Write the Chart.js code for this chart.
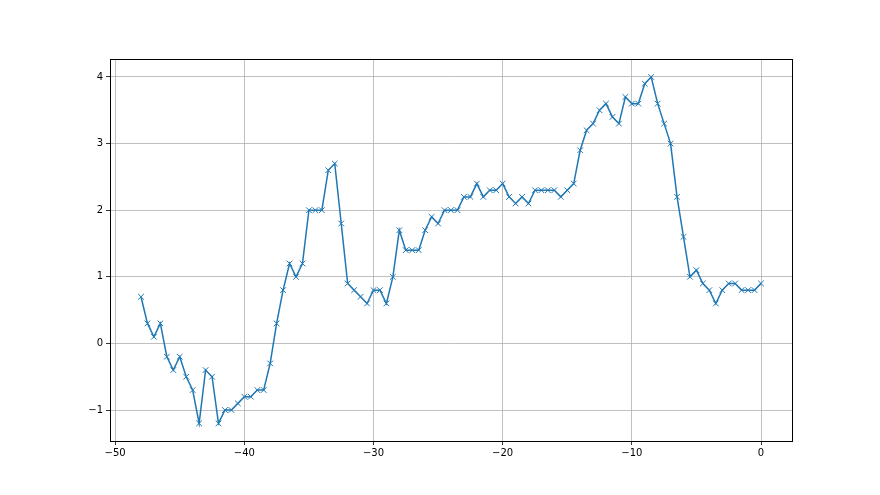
<!DOCTYPE html>
<html lang="en">
<head>
    <meta charset="UTF-8">
    <title>Line with x markers</title>
    <script src="https://cdn.jsdelivr.net/npm/chart.js"></script>
    <style>
        html, body { margin: 0; padding: 0; background: #fff; }
        #wrap { width: 880px; height: 495px; }
    </style>
</head>
<body>
    <div id="wrap"><canvas id="chart"></canvas></div>

    <script>
        // x positions (every half step from -48 to 0)
        const xValues = [
            -48, -47.5, -47, -46.5, -46, -45.5, -45, -44.5, -44, -43.5,
            -43, -42.5, -42, -41.5, -41, -40.5, -40, -39.5, -39, -38.5,
            -38, -37.5, -37, -36.5, -36, -35.5, -35, -34.5, -34, -33.5,
            -33, -32.5, -32, -31.5, -31, -30.5, -30, -29.5, -29, -28.5,
            -28, -27.5, -27, -26.5, -26, -25.5, -25, -24.5, -24, -23.5,
            -23, -22.5, -22, -21.5, -21, -20.5, -20, -19.5, -19, -18.5,
            -18, -17.5, -17, -16.5, -16, -15.5, -15, -14.5, -14, -13.5,
            -13, -12.5, -12, -11.5, -11, -10.5, -10, -9.5, -9, -8.5,
            -8, -7.5, -7, -6.5, -6, -5.5, -5, -4.5, -4, -3.5,
            -3, -2.5, -2, -1.5, -1, -0.5, 0
        ];

        const yValues = [
            0.7, 0.3, 0.1, 0.3, -0.2, -0.4, -0.2, -0.5, -0.7, -1.2,
            -0.4, -0.5, -1.2, -1.0, -1.0, -0.9, -0.8, -0.8, -0.7, -0.7,
            -0.3, 0.3, 0.8, 1.2, 1.0, 1.2, 2.0, 2.0, 2.0, 2.6,
            2.7, 1.8, 0.9, 0.8, 0.7, 0.6, 0.8, 0.8, 0.6, 1.0,
            1.7, 1.4, 1.4, 1.4, 1.7, 1.9, 1.8, 2.0, 2.0, 2.0,
            2.2, 2.2, 2.4, 2.2, 2.3, 2.3, 2.4, 2.2, 2.1, 2.2,
            2.1, 2.3, 2.3, 2.3, 2.3, 2.2, 2.3, 2.4, 2.9, 3.2,
            3.3, 3.5, 3.6, 3.4, 3.3, 3.7, 3.6, 3.6, 3.9, 4.0,
            3.6, 3.3, 3.0, 2.2, 1.6, 1.0, 1.1, 0.9, 0.8, 0.6,
            0.8, 0.9, 0.9, 0.8, 0.8, 0.8, 0.9
        ];

        const xTicks = [-50, -40, -30, -20, -10, 0];
        const yTicks = [-1, 0, 1, 2, 3, 4];

        const minus = v => v < 0 ? '\u2212' + Math.abs(v) : String(v);

        // top and right spines, matplotlib style
        const frame = {
            id: 'frame',
            afterDraw(chart) {
                const a = chart.chartArea, ctx = chart.ctx;
                ctx.save();
                ctx.strokeStyle = '#000';
                ctx.lineWidth = 1;
                ctx.strokeRect(Math.round(a.left) + 0.5, Math.round(a.top) + 0.5,
                    Math.round(a.right - a.left), Math.round(a.bottom - a.top));
                ctx.restore();
            }
        };

        new Chart(document.getElementById('chart').getContext('2d'), {
            type: 'line',
            data: {
                datasets: [{
                    data: xValues.map((x, i) => ({ x: x, y: yValues[i] })),
                    borderColor: '#1f77b4',
                    backgroundColor: '#1f77b4',
                    borderWidth: 1.5,
                    pointStyle: 'crossRot',
                    pointRadius: 4,
                    pointBorderWidth: 1,
                    pointBorderColor: '#1f77b4',
                    tension: 0,
                    fill: false
                }]
            },
            options: {
                responsive: true,
                maintainAspectRatio: false,
                animation: false,
                layout: { padding: { left: 0, top: 59, right: 88, bottom: 0 } },
                plugins: { legend: { display: false }, tooltip: { enabled: false } },
                scales: {
                    x: {
                        type: 'linear',
                        min: -50.4,
                        max: 2.4,
                        afterBuildTicks: s => { s.ticks = xTicks.map(v => ({ value: v })); },
                        afterFit: s => { s.height = 54; },
                        grid: { color: '#b0b0b0', lineWidth: 0.8, tickColor: '#000', tickLength: 4 },
                        border: { display: true, color: '#000', width: 1 },
                        ticks: {
                            color: '#000',
                            padding: 2,
                            maxRotation: 0,
                            font: { family: 'DejaVu Sans', size: 10 },
                            callback: v => minus(v)
                        }
                    },
                    y: {
                        min: -1.465,
                        max: 4.27,
                        afterBuildTicks: s => { s.ticks = yTicks.map(v => ({ value: v })); },
                        afterFit: s => { s.width = 110; },
                        grid: { color: '#b0b0b0', lineWidth: 0.8, tickColor: '#000', tickLength: 4 },
                        border: { display: true, color: '#000', width: 1 },
                        ticks: {
                            color: '#000',
                            padding: 3,
                            font: { family: 'DejaVu Sans', size: 10 },
                            callback: v => minus(v)
                        }
                    }
                }
            },
            plugins: [frame]
        });
    </script>
</body>
</html>
